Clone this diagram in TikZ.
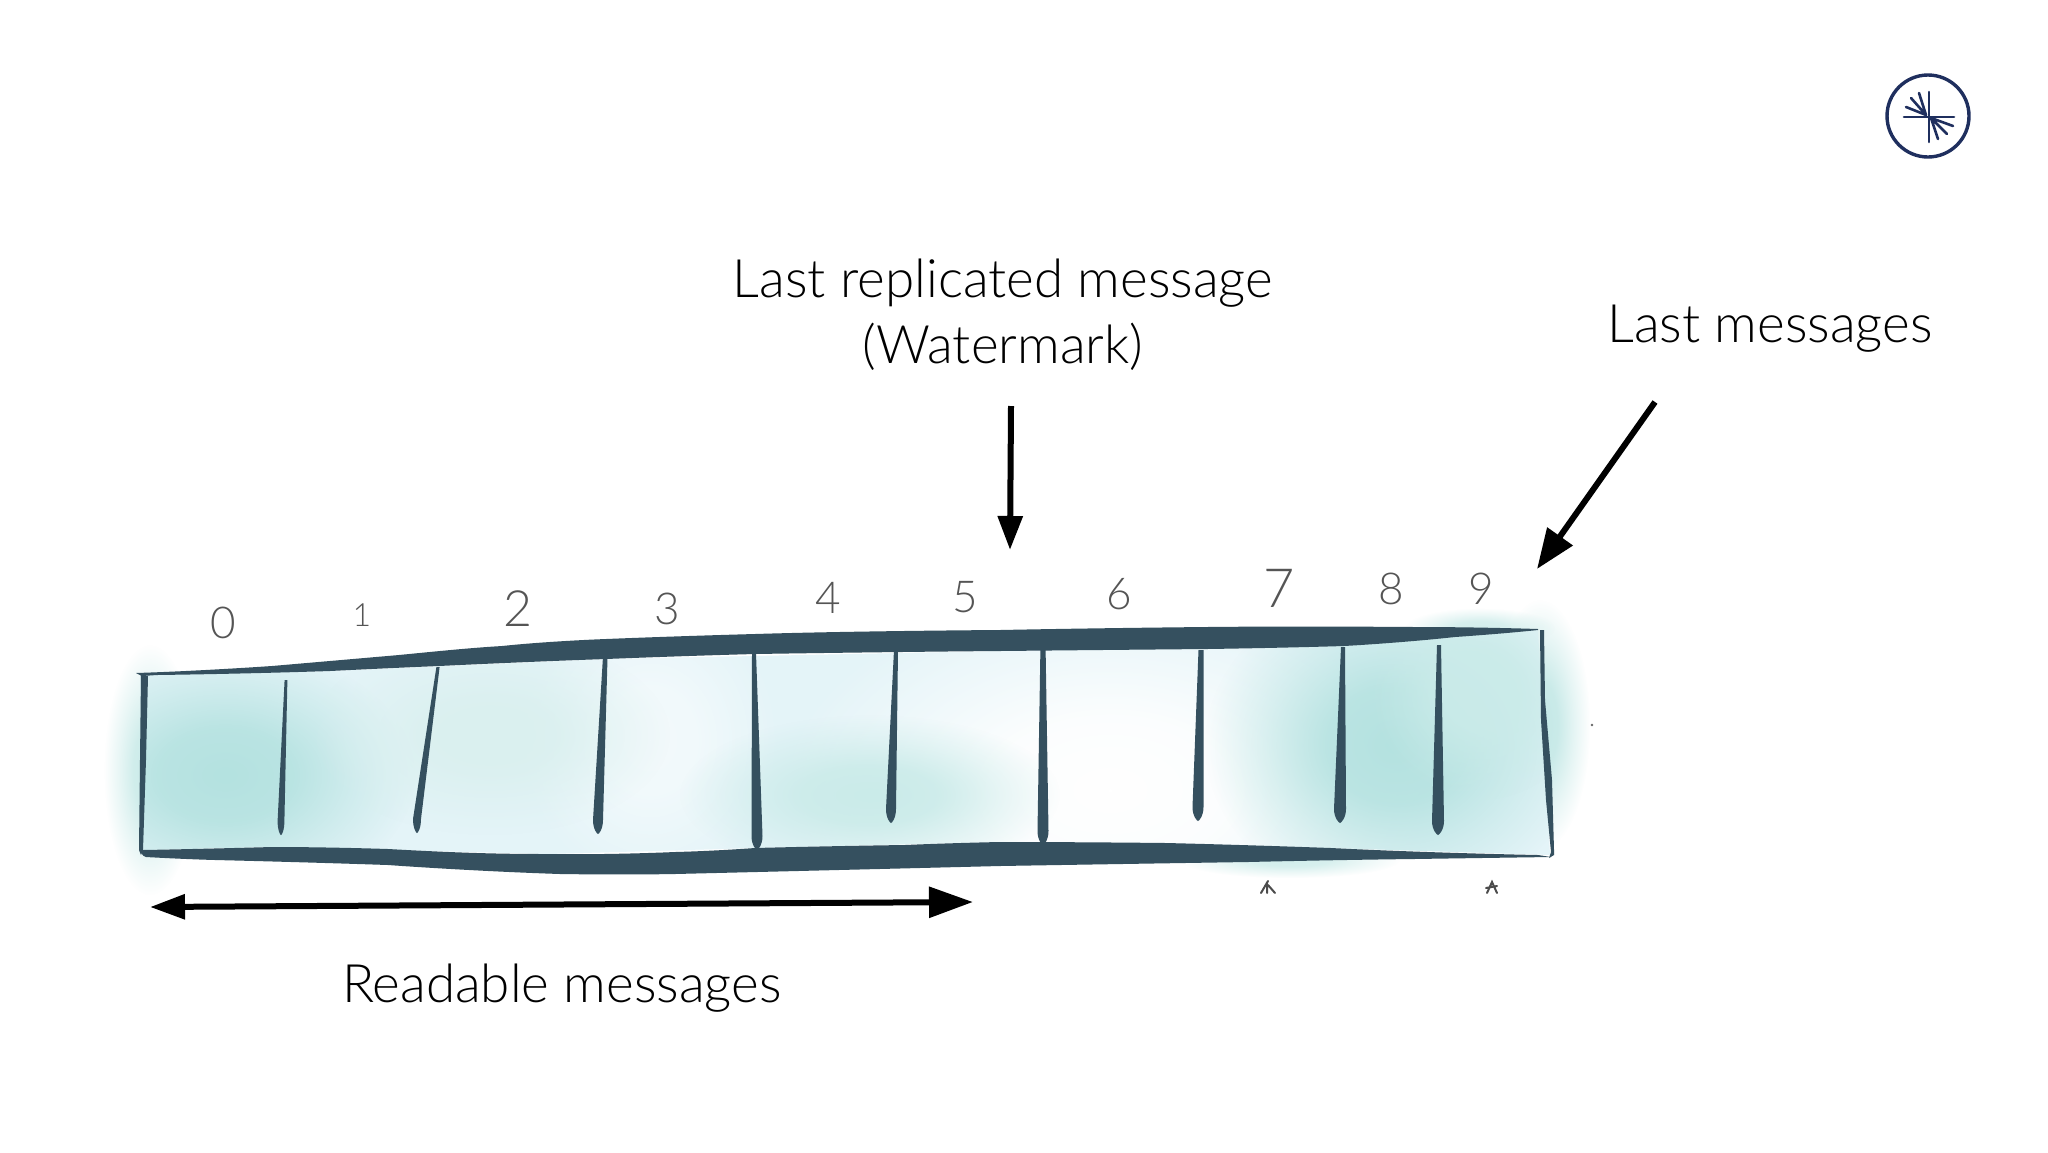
\documentclass[tikz,border=0pt]{standalone}
\usepackage{fontspec}
\setmainfont{Lato Light}
\usetikzlibrary{fadings,arrows.meta}
\definecolor{ink}{HTML}{35505F}
\definecolor{wash}{HTML}{E4F4F8}
\definecolor{teal}{HTML}{B4E2E0}
\definecolor{digit}{HTML}{555555}
\definecolor{logoblue}{HTML}{1F2F5E}
\pgfdeclareradialshading{blobsh}{\pgfpointorigin}{rgb(0bp)=(1,1,1); rgb(9bp)=(.88,.88,.88); rgb(17bp)=(.42,.42,.42); rgb(25bp)=(0,0,0); rgb(50bp)=(0,0,0)}
\pgfdeclarefading{blob}{\pgfuseshading{blobsh}}
\newcommand{\blob}[5]{\fill[#5, path fading=blob] (#1,#2) ellipse [x radius=#3, y radius=#4];}
\newcommand{\taper}[6]{\fill[ink] ({#1-#5},#2) -- ({#1+#5},#2) -- ({#3+#6},{#4-14}) .. controls ({#3+#6},{#4-5}) and ({#3+1},#4) .. (#3,#4) .. controls ({#3-1},#4) and ({#3-#6},{#4-5}) .. ({#3-#6},{#4-14}) -- cycle;}
\tikzset{
  heavy/.style={line width=6pt, black},
  lbl/.style={font=\fontsize{53}{66}\selectfont, text=black, inner sep=0pt, align=center},
  dgt/.style={font=\fontsize{44}{50}\selectfont, text=digit, inner sep=0pt},
  logoline/.style={logoblue, line width=2.6pt, line cap=round}
}
\begin{document}
\begin{tikzpicture}[x=1pt,y=-1pt]
\useasboundingbox (0,0) rectangle (2048,1152);
\fill[white] (0,0) rectangle (2048,1152);
% bleed of the wash outside the box
\blob{150}{770}{46}{125}{teal!70}
\blob{1540}{725}{50}{125}{teal!80}
\blob{1480}{628}{75}{20}{teal!60}
\blob{1290}{860}{110}{18}{teal!60}
% base wash and its lighter and darker areas
\begin{scope}
\clip (140,675) -- (330,671) -- (606,659) -- (1000,651) -- (1344,646) -- (1538,630)
  -- (1550,855) -- (1331,848) -- (1000,842) -- (755,848) -- (548,854) -- (272,847) -- (143,850) -- cycle;
\fill[wash] (100,600) rectangle (1600,900);
\blob{1110}{790}{330}{200}{white}
\blob{650}{740}{130}{150}{white!55!wash}
\blob{225}{775}{190}{130}{teal}
\blob{490}{735}{180}{100}{teal!50}
\blob{870}{795}{190}{80}{teal!70}
\blob{1395}{745}{190}{160}{teal}
\blob{1480}{690}{110}{110}{teal!70}
\end{scope}
% top band
\fill[ink] (136,673) .. controls (200,671) and (272,666) .. (272,666)
  .. controls (330,661) and (399,655) .. (399,655)
  .. controls (450,650) and (470,648) .. (502,646)
  .. controls (550,641) and (606,639) .. (606,639)
  .. controls (680,636) and (755,634) .. (755,634)
  .. controls (850,631) and (1000,630) .. (1000,630)
  .. controls (1100,628) and (1207,627) .. (1207,627)
  .. controls (1300,626) and (1414,627) .. (1414,627)
  .. controls (1480,627) and (1538,629) .. (1538,629)
  -- (1538,630)
  .. controls (1500,634) and (1455,637) .. (1455,637)
  .. controls (1400,643) and (1344,646) .. (1344,646)
  .. controls (1280,648) and (1207,649) .. (1207,649)
  .. controls (1100,650) and (1000,651) .. (1000,651)
  .. controls (880,652) and (755,654) .. (755,654)
  .. controls (680,656) and (606,659) .. (606,659)
  .. controls (520,662) and (439,666) .. (439,666)
  .. controls (390,668) and (330,671) .. (330,671)
  .. controls (240,674) and (157,675) .. (157,675) -- (142,676) -- cycle;
% bottom band
\fill[ink] (141,848) -- (143,850)
  .. controls (200,849) and (272,847) .. (272,847)
  .. controls (330,847) and (388,849) .. (388,849)
  .. controls (460,853) and (500,854) .. (548,854)
  .. controls (610,855) and (675,852) .. (675,852)
  .. controls (715,851) and (755,848) .. (755,848)
  .. controls (830,846) and (905,845) .. (905,845)
  .. controls (950,843) and (1000,842) .. (1000,842)
  .. controls (1080,842) and (1166,843) .. (1166,843)
  .. controls (1250,845) and (1331,848) .. (1331,848)
  .. controls (1430,853) and (1538,855) .. (1538,855)
  -- (1551,857)
  .. controls (1480,858) and (1414,859) .. (1414,859)
  .. controls (1330,860) and (1248,862) .. (1248,862)
  .. controls (1120,864) and (1000,866) .. (1000,866)
  .. controls (840,870) and (675,874) .. (675,874)
  .. controls (620,875) and (560,874) .. (560,874)
  .. controls (470,871) and (388,865) .. (388,865)
  .. controls (300,862) and (215,860) .. (215,860)
  .. controls (180,859) and (146,857) .. (146,857)
  .. controls (142,856) and (140,852) .. (141,848) -- cycle;
% side edges
\fill[ink] (141,675) -- (148,676) -- (146,760) -- (143,850) -- (141,855) -- (139,850) -- (140,760) -- cycle;
\fill[ink] (1540,630) -- (1544,630) -- (1545,700) -- (1552,780) -- (1554,850) -- (1554,855) -- (1549,858) -- (1551,852) -- (1546,800) -- (1541,720) -- cycle;
% dividers
\taper{286}{680}{281}{835}{1.4}{3.4}
\taper{438}{667}{417}{833}{1.6}{4}
\taper{606}{640}{598}{834}{2}{5}
\taper{754}{653}{757}{850}{2}{5.5}
\taper{896}{650}{891}{823}{2}{5}
\taper{1043}{643}{1043}{845}{2.5}{5.5}
\taper{1201}{650}{1198}{821}{2.5}{5.5}
\taper{1343}{647}{1340}{823}{2}{6}
\taper{1439}{645}{1438}{835}{2}{6}
% digits
\node[dgt] (d0) at (223,623) {0};
\node[dgt] (d1) at (362,615) {\fontsize{32}{32}\selectfont 1};
\node[dgt] (d2) at (518,609) {\fontsize{50}{50}\selectfont 2};
\node[dgt] (d3) at (667,609) {3};
\node[dgt] (d4) at (828,598) {4};
\node[dgt] (d5) at (965,597) {5};
\node[dgt] (d6) at (1119,594) {6};
\node[dgt] (d7) at (1279,588) {\fontsize{54}{54}\selectfont 7};
\node[dgt] (d8) at (1391,589) {8};
\node[dgt] (d9) at (1481,589) {9};
% labels
\node[lbl] (wm) at (1003,315) {Last replicated message\\(Watermark)};
\node[lbl] (lm) at (1770,329) {Last messages};
\node[lbl] (rm) at (562,988) {Readable messages};
% arrows
\coordinate (wa) at (1011,406); \coordinate (wb) at (1010,550);
\coordinate (la) at (1655,402); \coordinate (lb) at (1537,569);
\coordinate (ra) at (150,907);  \coordinate (rb) at (973,902);
\draw[heavy,-{Triangle[length=34pt,width=24pt]}] (wa) -- (wb);
\draw[heavy,-{Triangle[length=40pt,width=30pt]}] (la) -- (lb);
\draw[heavy,{Triangle[length=35pt,width=24pt]}-{Triangle[length=44pt,width=30pt]}] (ra) -- (rb);
% specks
\draw[black!70,line width=2pt,line cap=round] (1261,893) -- (1268,881) (1267,884) -- (1267,893) (1268,885) -- (1275,893);
\draw[black!70,line width=2pt,line cap=round] (1487,893) -- (1492,882) -- (1497,893) (1486,888) -- (1497,886);
\fill[black!60] (1592,725) circle (1.3);
% logo
\draw[logoblue,line width=3.4pt] (1928,116) circle (41);
\draw[logoline] (1904,117) -- (1954,117) (1929,92) -- (1929,142);
\draw[logoline] (1926,115) -- (1906,107) (1926,115) -- (1911,98) (1926,115) -- (1919,93);
\draw[logoline] (1931,118) -- (1953,126) (1931,118) -- (1947,134) (1931,118) -- (1938,139);
\end{tikzpicture}
\end{document}
